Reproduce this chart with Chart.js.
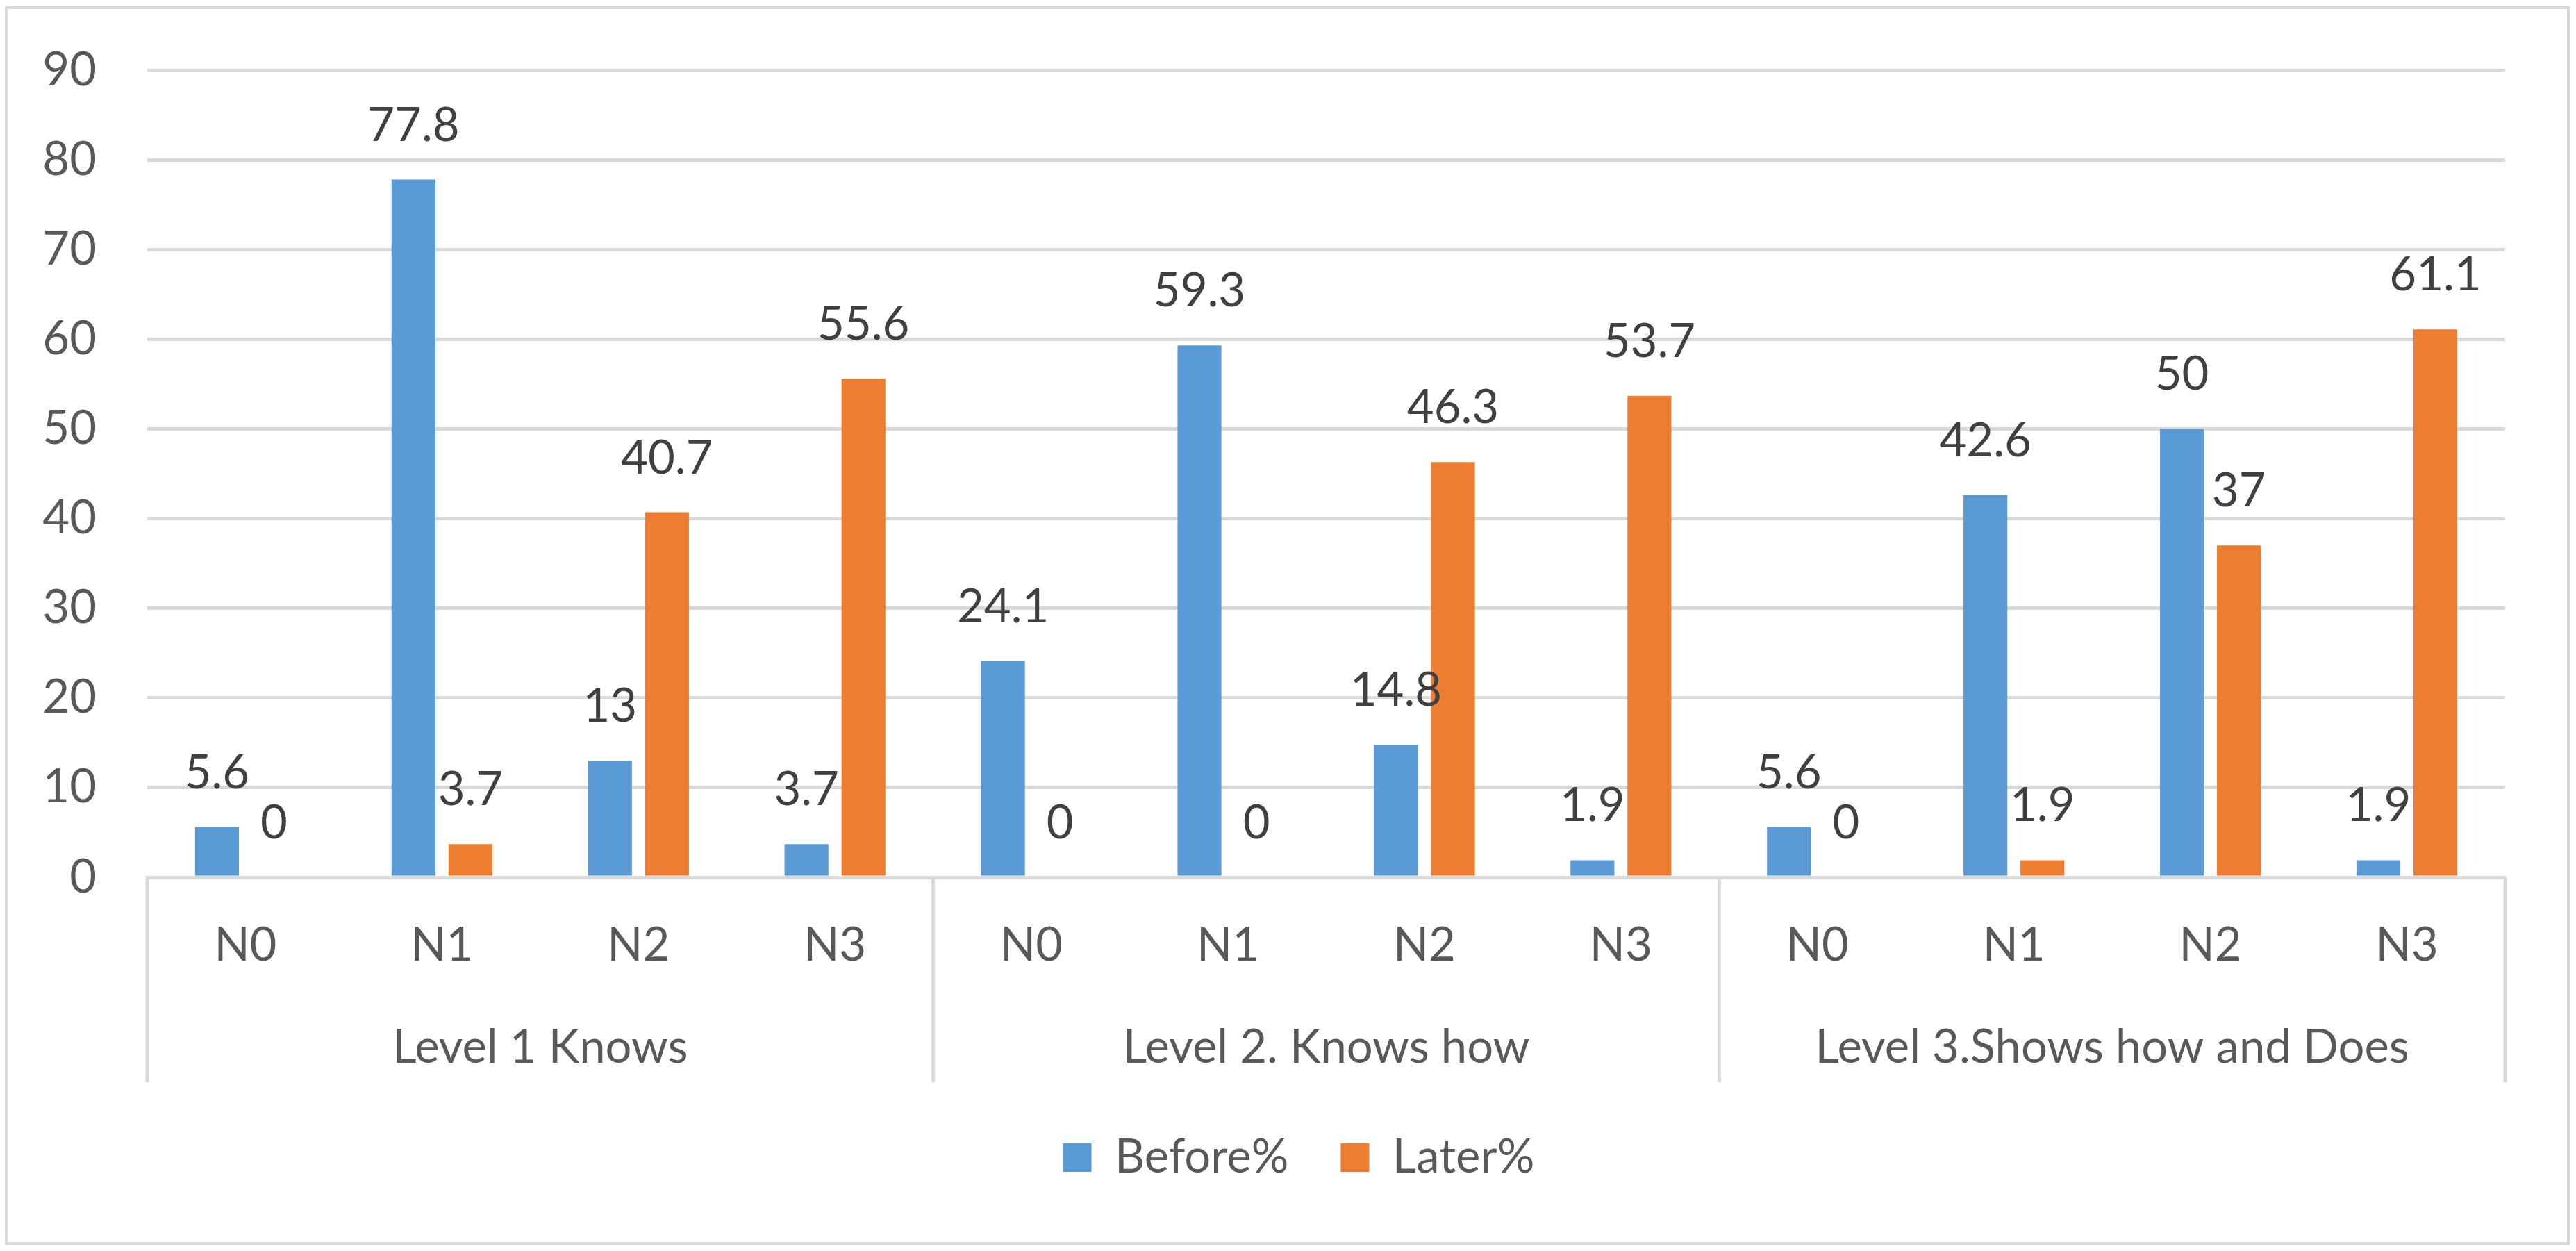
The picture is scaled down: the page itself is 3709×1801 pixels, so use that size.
<!DOCTYPE html>
<html>
<head>
<meta charset="utf-8">
<script src="https://cdn.jsdelivr.net/npm/chart.js@4.4.1/dist/chart.umd.min.js"></script>
<style>
  html, body { margin: 0; padding: 0; background: #fff; }
  #frame { position: absolute; left: 7px; top: 9px; width: 3693px; height: 1783px; box-sizing: border-box; border: 4px solid #d9d9d9; }
  canvas { display: block; }
</style>
</head>
<body>
<div id="frame"><canvas id="chart" width="3685" height="1775"></canvas></div>
<script>
// chart data
const groups = ['Level 1 Knows', 'Level 2. Knows how', 'Level 3.Shows how and Does'];
const levels = ['N0', 'N1', 'N2', 'N3'];
const beforePct = [5.6, 77.8, 13, 3.7, 24.1, 59.3, 14.8, 1.9, 5.6, 42.6, 50, 1.9];
const laterPct = [0, 3.7, 40.7, 55.6, 0, 0, 46.3, 53.7, 0, 1.9, 37, 61.1];
const yMax = 90;
const yStep = 10;

const categories = groups.flatMap(() => levels);

Chart.defaults.font.family = 'Lato';
Chart.defaults.color = '#595959';

// value labels above each bar
const barLabels = {
  id: 'barLabels',
  afterDatasetsDraw(chart) {
    const ctx = chart.ctx;
    ctx.save();
    ctx.font = '67px Lato';
    ctx.fillStyle = '#404040';
    ctx.textAlign = 'center';
    ctx.textBaseline = 'alphabetic';
    chart.data.datasets.forEach((ds, i) => {
      chart.getDatasetMeta(i).data.forEach((bar, j) => {
        ctx.fillText(String(ds.data[j]), bar.x, bar.y - 56);
      });
    });
    ctx.restore();
  }
};

// vertical lines between the groups on the category axis
const groupDividers = {
  id: 'groupDividers',
  afterDraw(chart) {
    const x = chart.scales.x;
    const x2 = chart.scales.x2;
    const half = (x.getPixelForValue(1) - x.getPixelForValue(0)) / 2;
    const ctx = chart.ctx;
    ctx.save();
    ctx.strokeStyle = '#d9d9d9';
    ctx.lineWidth = 5;
    for (let g = 0; g <= groups.length; g++) {
      const idx = g * levels.length;
      const px = idx < categories.length
        ? x.getPixelForValue(idx) - half
        : x.getPixelForValue(categories.length - 1) + half;
      ctx.beginPath();
      ctx.moveTo(px, chart.chartArea.bottom);
      ctx.lineTo(px, x2.bottom);
      ctx.stroke();
    }
    ctx.restore();
  }
};

// nudge the legend a little right, like the original
const legendShift = {
  id: 'legendShift',
  afterLayout(chart) {
    if (chart.legend) {
      chart.legend.left += 55;
      chart.legend.right += 55;
    }
  }
};

new Chart(document.getElementById('chart'), {
  type: 'bar',
  data: {
    labels: categories,
    datasets: [
      {
        label: 'Before%',
        data: beforePct,
        backgroundColor: '#5b9bd5',
        borderWidth: 0,
        barPercentage: 0.77,
        categoryPercentage: 0.58
      },
      {
        label: 'Later%',
        data: laterPct,
        backgroundColor: '#ed7d31',
        borderWidth: 0,
        barPercentage: 0.77,
        categoryPercentage: 0.58
      }
    ]
  },
  options: {
    responsive: false,
    animation: false,
    devicePixelRatio: 1,
    layout: { padding: { left: 12, right: 89, top: 88, bottom: 78 } },
    plugins: {
      tooltip: { enabled: false },
      legend: {
        position: 'bottom',
        labels: {
          boxWidth: 41,
          boxHeight: 41,
          padding: 75,
          color: '#595959',
          font: { size: 67 }
        }
      }
    },
    scales: {
      y: {
        min: 0,
        max: yMax,
        ticks: { stepSize: yStep, padding: 73, color: '#595959', font: { size: 67 } },
        grid: { color: '#d9d9d9', lineWidth: 5, drawTicks: false },
        border: { display: false },
        afterFit(s) {
          s.width = 189;
          // tick padding would otherwise push the plot down
          s.paddingTop = 0;
          s.paddingBottom = 0;
        }
      },
      x: {
        grid: { display: false, drawTicks: false },
        border: { color: '#d9d9d9', width: 5 },
        ticks: { padding: 58, color: '#595959', font: { size: 67 }, maxRotation: 0, autoSkip: false },
        afterFit(s) { s.height = 138; }
      },
      x2: {
        type: 'category',
        labels: groups,
        offset: true,
        position: 'bottom',
        grid: { display: false, drawTicks: false },
        border: { display: false },
        ticks: { padding: 67, color: '#595959', font: { size: 67 }, maxRotation: 0, autoSkip: false },
        afterFit(s) { s.height = 157; }
      }
    }
  },
  plugins: [barLabels, groupDividers, legendShift]
});
</script>
</body>
</html>
